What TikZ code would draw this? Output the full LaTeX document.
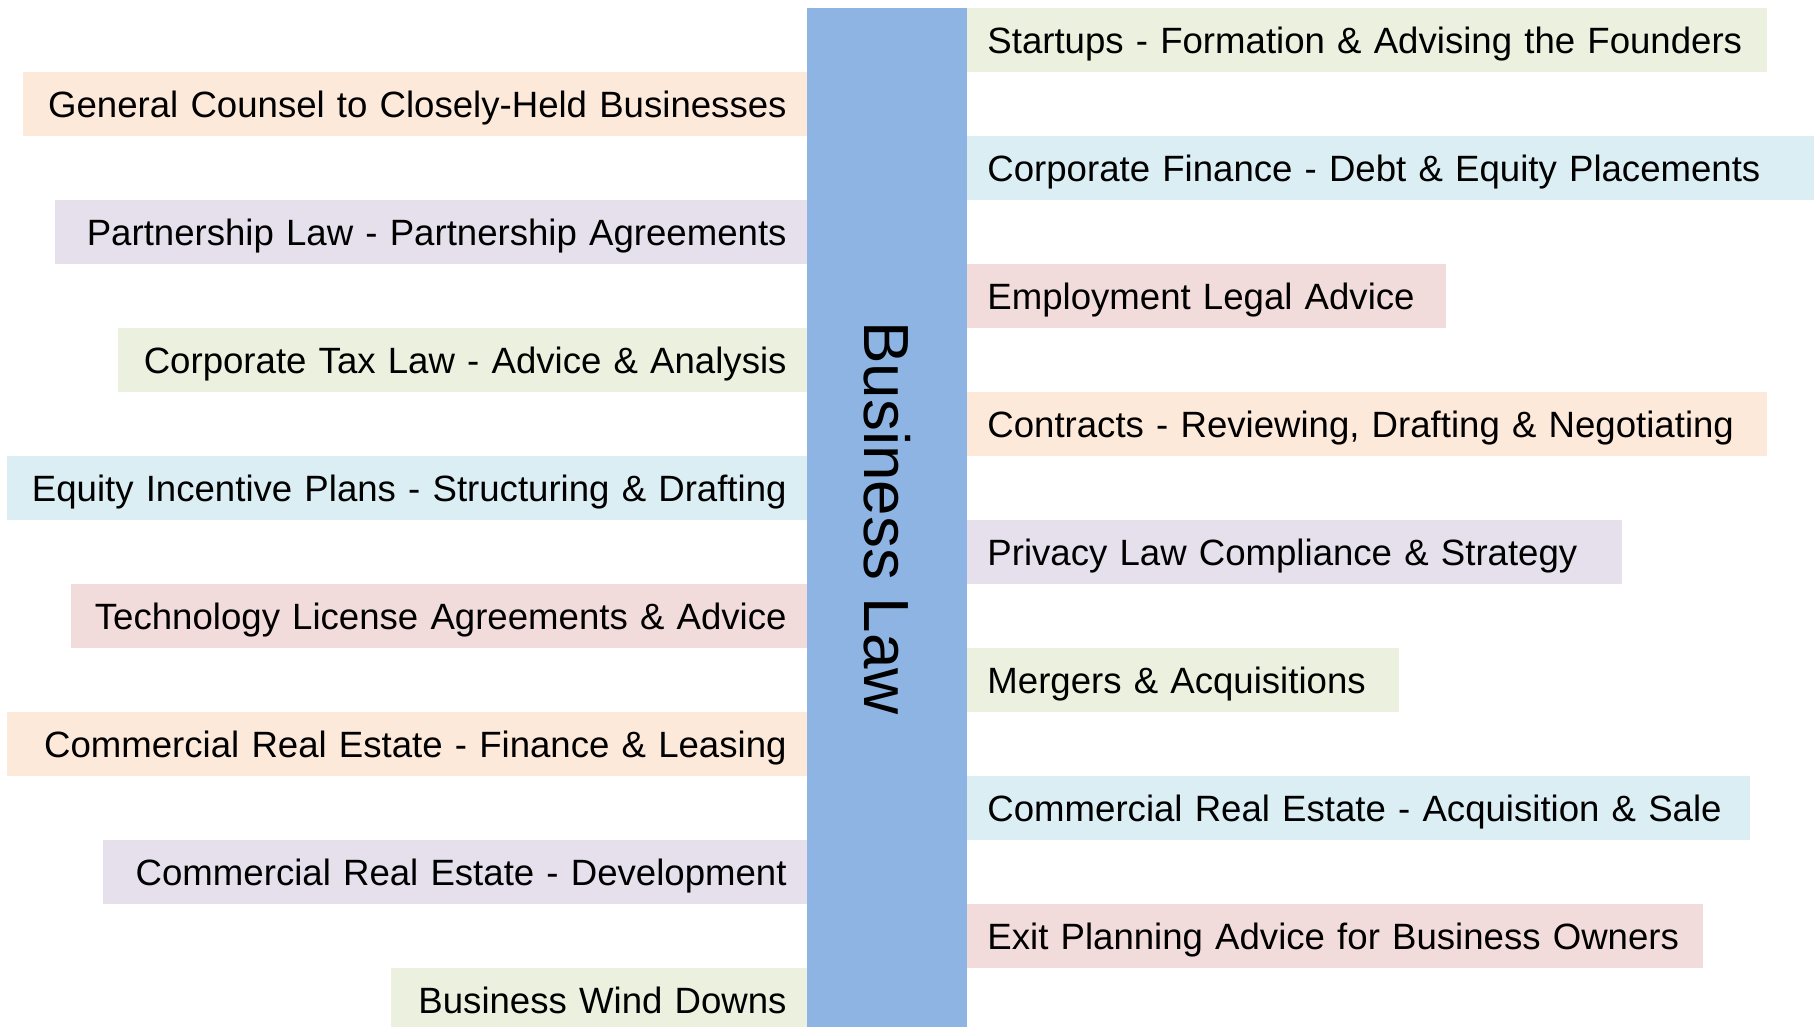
\documentclass[tikz,border=0pt]{standalone}
\usepackage{xcolor}
\usepackage{fontspec}
\setmainfont{Liberation Sans}
\usepackage{tikz}
\usetikzlibrary{positioning}

\definecolor{barblue}{HTML}{8EB4E3}
\definecolor{tintgreen}{HTML}{EBF1DE}
\definecolor{tintpeach}{HTML}{FDE9D9}
\definecolor{tintblue}{HTML}{DBEEF4}
\definecolor{tintlilac}{HTML}{E5E0EC}
\definecolor{tintpink}{HTML}{F2DCDB}

\newcommand{\itemfont}{\fontsize{18.3}{22}\selectfont}
\newcommand{\titlefont}{\fontsize{31.9}{36}\selectfont}

\begin{document}
\begin{tikzpicture}[x=1pt,y=-1pt,
  lbox/.style={anchor=east,minimum height=32pt,inner xsep=10pt,text depth=0pt,align=right,font=\itemfont},
  rbox/.style={anchor=west,minimum height=32pt,inner xsep=10pt,text depth=0pt,align=left,font=\itemfont}]
\clip (0,0) rectangle (910,513.5); % page
\node[fill=barblue,minimum width=80pt,minimum height=509.5pt,inner sep=0pt,anchor=north] (bizlaw) at (443.5,4) {}; % centre bar
\node[rotate=-90,font=\titlefont] (bizlawtext) at (bizlaw.center) {Business Law};
% right column
\node[rbox,fill=tintgreen,text width=380pt] (startups) at (483.5,20) {Startups - Formation \& Advising the Founders};
\node[rbox,fill=tintblue,text width=403.5pt] (corpfin) at (483.5,84) {Corporate Finance - Debt \& Equity Placements};
\node[rbox,fill=tintpink,text width=219.5pt] (employ) at (483.5,148) {Employment Legal Advice};
\node[rbox,fill=tintpeach,text width=380pt] (contracts) at (483.5,212) {Contracts - Reviewing, Drafting \& Negotiating};
\node[rbox,fill=tintlilac,text width=307.5pt] (privacy) at (483.5,276) {Privacy Law Compliance \& Strategy};
\node[rbox,fill=tintgreen,text width=196pt] (mergers) at (483.5,340) {Mergers \& Acquisitions};
\node[rbox,fill=tintblue,text width=371.5pt] (reacq) at (483.5,404) {Commercial Real Estate - Acquisition \& Sale};
\node[rbox,fill=tintpink,text width=348pt] (exitplan) at (483.5,468) {Exit Planning Advice for Business Owners};
% left column
\node[lbox,fill=tintpeach,text width=372pt] (counsel) at (403.5,52) {General Counsel to Closely-Held Businesses};
\node[lbox,fill=tintlilac,text width=356pt] (partner) at (403.5,116) {Partnership Law - Partnership Agreements};
\node[lbox,fill=tintgreen,text width=324.5pt] (corptax) at (403.5,180) {Corporate Tax Law - Advice \& Analysis};
\node[lbox,fill=tintblue,text width=380pt] (equity) at (403.5,244) {Equity Incentive Plans - Structuring \& Drafting};
\node[lbox,fill=tintpink,text width=348pt] (techlic) at (403.5,308) {Technology License Agreements \& Advice};
\node[lbox,fill=tintpeach,text width=380pt] (refin) at (403.5,372) {Commercial Real Estate - Finance \& Leasing};
\node[lbox,fill=tintlilac,text width=332pt] (redev) at (403.5,436) {Commercial Real Estate - Development};
\node[lbox,fill=tintgreen,text width=188pt] (winddown) at (403.5,500) {Business Wind Downs};
\end{tikzpicture}
\end{document}
